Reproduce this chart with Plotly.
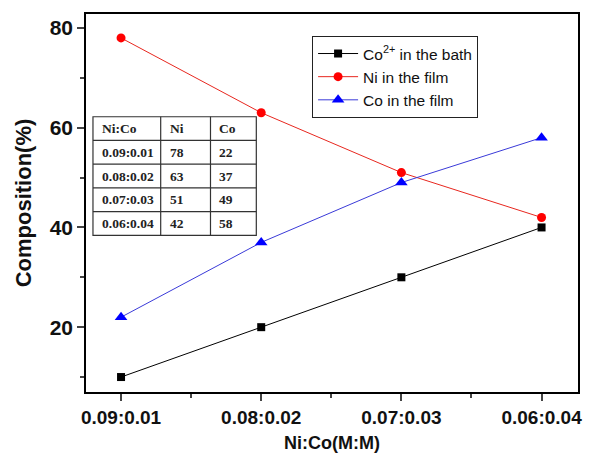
import plotly.graph_objects as go

categories = ["0.09:0.01", "0.08:0.02", "0.07:0.03", "0.06:0.04"]
co_bath = [10, 20, 30, 40]
ni_film = [78, 63, 51, 42]
co_film = [22, 37, 49, 58]

table_header = ["Ni:Co", "Ni", "Co"]

xpos = list(range(len(categories)))

# plot-area pixel geometry (layout only)
L, R, T, B = 86, 580, 13, 392
W, H = 594, 466


def px(x):
    return (x - L) / (R - L)


def py(y):
    return (B - y) / (B - T)


fig = go.Figure()
fig.add_trace(go.Scatter(x=xpos, y=co_bath, mode="lines+markers", name="Co<sup>2+</sup> in the bath",
                         line=dict(color="black", width=1), marker=dict(symbol="square", size=8, color="black")))
fig.add_trace(go.Scatter(x=xpos, y=ni_film, mode="lines+markers", name="Ni in the film",
                         line=dict(color="#e8271f", width=1), marker=dict(symbol="circle", size=9, color="red")))
fig.add_trace(go.Scatter(x=xpos, y=co_film, mode="lines+markers", name="Co in the film",
                         line=dict(color="#3a3ad8", width=1), marker=dict(symbol="triangle-up", size=11, color="blue")))

# inset table drawn with shapes + annotations
col_edges = [93, 161, 211, 257]
row_edges = [116, 139.8, 163.6, 187.4, 211.2, 235]
shapes = [dict(type="rect", xref="paper", yref="paper", x0=px(col_edges[0]), x1=px(col_edges[-1]),
               y0=py(row_edges[-1]), y1=py(row_edges[0]), fillcolor="white",
               line=dict(color="#333", width=1.2), layer="above")]
for cx in col_edges[1:-1]:
    shapes.append(dict(type="line", xref="paper", yref="paper", x0=px(cx), x1=px(cx),
                       y0=py(row_edges[-1]), y1=py(row_edges[0]), line=dict(color="#333", width=1.2), layer="above"))
for ry in row_edges[1:-1]:
    shapes.append(dict(type="line", xref="paper", yref="paper", x0=px(col_edges[0]), x1=px(col_edges[-1]),
                       y0=py(ry), y1=py(ry), line=dict(color="#333", width=1.2), layer="above"))

rows = [table_header] + [[c, str(n), str(k)] for c, n, k in zip(categories, ni_film, co_film)]
annotations = []
for ri, row in enumerate(rows):
    yc = (row_edges[ri] + row_edges[ri + 1]) / 2
    for ci, val in enumerate(row):
        annotations.append(dict(text=f"<b>{val}</b>", xref="paper", yref="paper",
                                x=px(col_edges[ci] + 7), y=py(yc), xanchor="left", yanchor="middle",
                                showarrow=False, font=dict(family="Liberation Serif", size=13.5, color="#222")))

fig.update_layout(
    width=W, height=H,
    margin=dict(l=L, r=W - R, t=T, b=H - B),
    paper_bgcolor="white", plot_bgcolor="white",
    font=dict(family="Arial, Liberation Sans", color="#111"),
    showlegend=True,
    shapes=shapes, annotations=annotations,
    legend=dict(x=px(313), y=py(35), xanchor="left", yanchor="top", bordercolor="#222", borderwidth=1,
                bgcolor="white", font=dict(size=15.5, color="#111"), tracegroupgap=0, itemwidth=40),
    xaxis=dict(range=[-0.25, 3.26], tickmode="array", tickvals=xpos,
               ticktext=[f"<b>{c}</b>" for c in categories], ticks="outside", ticklen=7, tickwidth=1.5,
               showline=True, linecolor="black", linewidth=1.5, mirror=True, showgrid=False, zeroline=False,
               tickfont=dict(size=19),
               minor=dict(tickvals=[0.5, 1.5, 2.5], ticks="outside", ticklen=4, tickwidth=1.5),
               title=dict(text="<b>Ni:Co(M:M)</b>", font=dict(size=18), standoff=10)),
    yaxis=dict(range=[7, 82.8], tickvals=[20, 40, 60, 80], ticktext=["<b>20</b>", "<b>40</b>", "<b>60</b>", "<b>80</b>"],
               ticks="outside", ticklen=7, tickwidth=1.5,
               showline=True, linecolor="black", linewidth=1.5, mirror=True, showgrid=False, zeroline=False,
               tickfont=dict(size=21),
               minor=dict(tickvals=[10, 30, 50, 70], ticks="outside", ticklen=4, tickwidth=1.5),
               title=dict(text="<b>Composition(%)</b>", font=dict(size=22), standoff=12)),
)

fig.write_html("out.html")
